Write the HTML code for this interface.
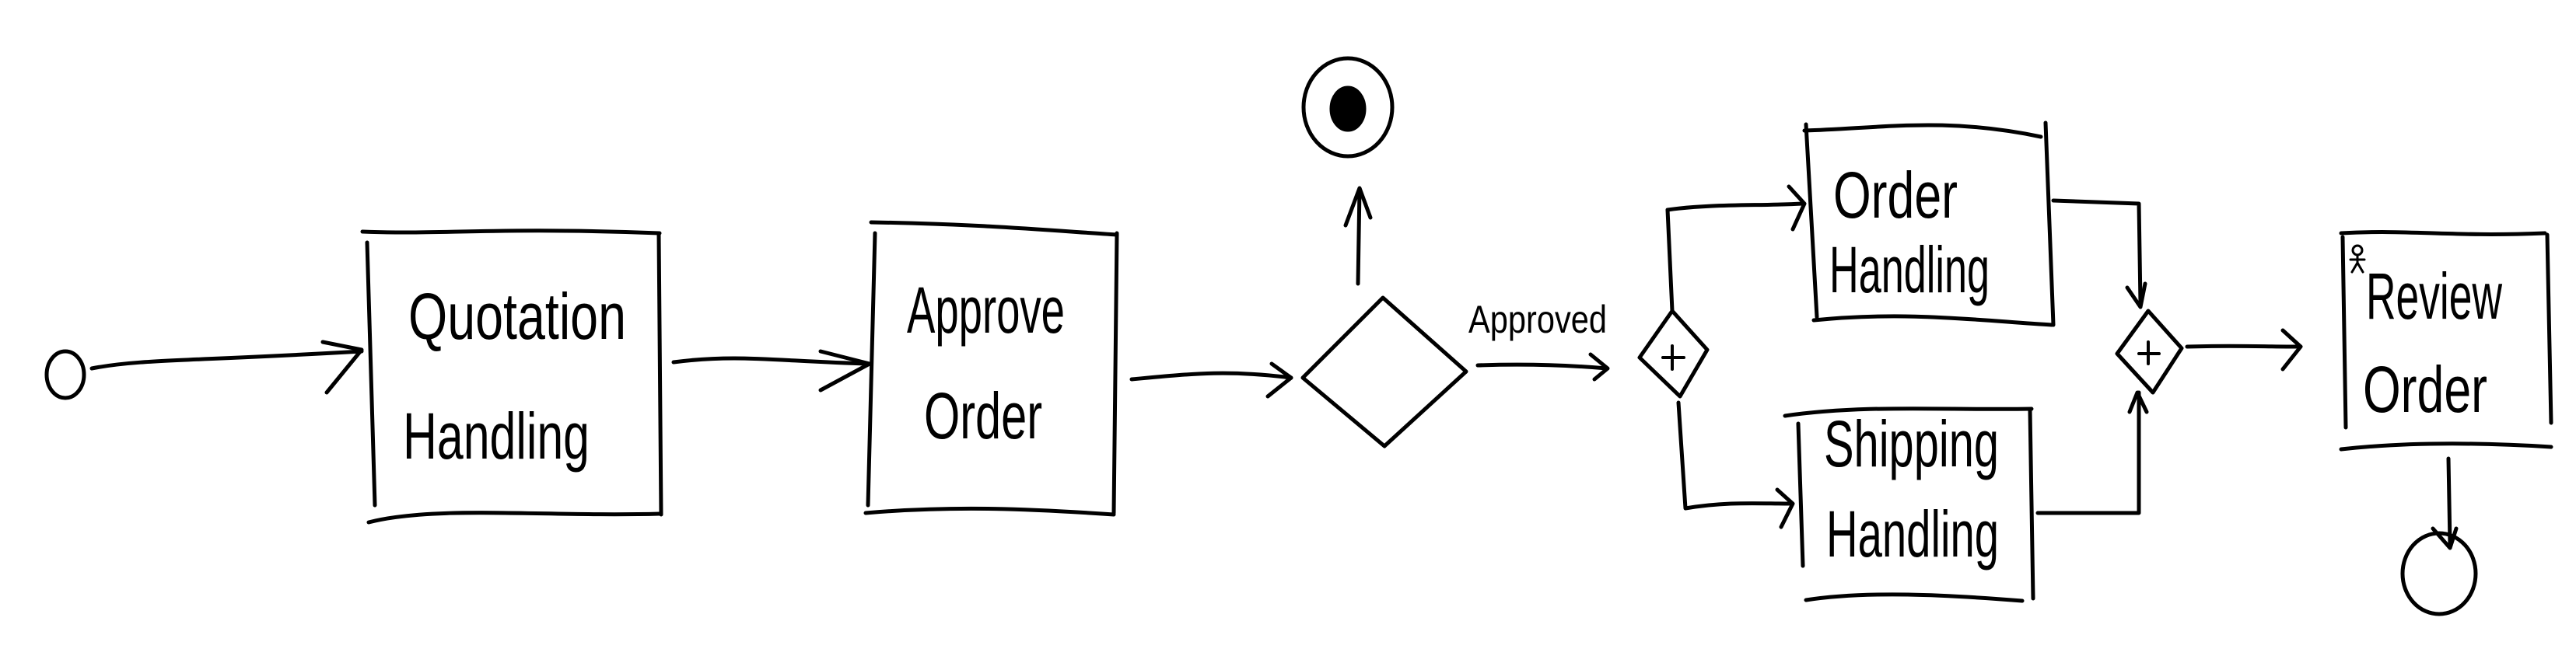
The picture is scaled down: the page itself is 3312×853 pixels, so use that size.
<!DOCTYPE html>
<html><head><meta charset="utf-8"><style>
html,body{margin:0;padding:0;background:#fff;}
svg{display:block;}
text{font-family:"Liberation Sans Narrow","Liberation Sans",sans-serif;fill:#000;}
</style></head><body>
<svg width="3312" height="853" viewBox="0 0 3312 853" xmlns="http://www.w3.org/2000/svg">
<g fill="none" stroke="#000" stroke-width="5" stroke-linecap="round" stroke-linejoin="round">
<ellipse cx="84" cy="482" rx="24" ry="30"/>
<path d="M118 474 C180 462 240 465 465 452"/>
<path d="M415 440 L465 450 L420 505"/>
<path d="M466 298 C560 302 640 292 848 300"/>
<path d="M472 312 L482 650"/>
<path d="M847 300 L850 662"/>
<path d="M474 672 C560 650 700 665 848 661"/>
<path d="M866 466 C950 455 1000 465 1117 468"/>
<path d="M1055 452 L1118 468 L1055 502"/>
<path d="M1120 286 C1250 288 1330 295 1436 302"/>
<path d="M1125 300 L1116 650"/>
<path d="M1436 300 L1432 660"/>
<path d="M1113 660 C1230 650 1330 655 1432 662"/>
<path d="M1455 488 C1540 480 1580 476 1660 486"/>
<path d="M1635 468 L1660 486 L1630 510"/>
<path d="M1675 486 L1778 383 L1885 478 L1780 574 Z"/>
<path d="M1746 365 L1748 243"/>
<path d="M1730 290 L1748 242 L1762 280"/>
<ellipse cx="1733" cy="138" rx="57" ry="63" stroke-width="5"/>
<ellipse cx="1733" cy="140" rx="21" ry="27" fill="#000"/>
<path d="M1900 470 C1960 468 2020 470 2066 474"/>
<path d="M2045 456 L2067 474 L2050 488"/>
<path d="M2150 400 L2195 450 L2160 510 L2108 460 Z"/>
<path d="M2150 445 L2150 475 M2138 460 L2165 460" stroke-width="4"/>
<path d="M2150 400 L2144 270 C2200 262 2260 265 2318 262"/>
<path d="M2300 240 L2320 262 L2305 295"/>
<path d="M2158 518 L2167 654 C2220 645 2260 648 2302 648"/>
<path d="M2285 630 L2305 648 L2290 678"/>
<path d="M2320 168 C2420 165 2500 150 2624 176"/>
<path d="M2322 160 L2336 408"/>
<path d="M2630 158 L2640 418"/>
<path d="M2332 412 C2450 400 2540 412 2638 418"/>
<path d="M2295 535 C2400 520 2500 528 2612 526"/>
<path d="M2312 545 L2318 728"/>
<path d="M2610 528 L2614 770"/>
<path d="M2322 772 C2400 760 2500 765 2600 773"/>
<path d="M2640 258 L2750 262 L2752 390"/>
<path d="M2735 370 L2752 395 L2758 365"/>
<path d="M2620 660 L2750 660 L2750 505"/>
<path d="M2738 530 L2748 505 L2760 530"/>
<path d="M2762 400 L2805 448 L2768 505 L2722 455 Z"/>
<path d="M2762 440 L2762 468 M2750 455 L2776 455" stroke-width="4"/>
<path d="M2812 446 C2870 444 2910 446 2955 446"/>
<path d="M2935 425 L2958 446 L2935 475"/>
<path d="M3010 300 C3100 295 3150 305 3272 300"/>
<path d="M3012 305 L3016 550"/>
<path d="M3275 302 L3280 544"/>
<path d="M3010 578 C3100 568 3200 570 3280 575"/>
<circle cx="3031" cy="322" r="6" stroke-width="3"/>
<path d="M3031 328 L3031 338 M3022 334 L3040 334 M3031 338 L3024 350 M3031 338 L3038 350" stroke-width="3"/>
<path d="M3148 590 L3150 700"/>
<path d="M3128 680 L3150 705 L3158 680"/>
<ellipse cx="3136" cy="738" rx="47" ry="52"/>
</g>
<g font-size="84">
<text x="525" y="436" textLength="280" lengthAdjust="spacingAndGlyphs">Quotation</text>
<text x="518" y="590" textLength="240" lengthAdjust="spacingAndGlyphs">Handling</text>
<text x="1166" y="428" textLength="203" lengthAdjust="spacingAndGlyphs">Approve</text>
<text x="1188" y="564" textLength="152" lengthAdjust="spacingAndGlyphs">Order</text>
<text x="2357" y="280" textLength="160" lengthAdjust="spacingAndGlyphs">Order</text>
<text x="2352" y="376" textLength="206" lengthAdjust="spacingAndGlyphs">Handling</text>
<text x="2345" y="600" textLength="225" lengthAdjust="spacingAndGlyphs">Shipping</text>
<text x="2348" y="716" textLength="222" lengthAdjust="spacingAndGlyphs">Handling</text>
<text x="3042" y="410" textLength="175" lengthAdjust="spacingAndGlyphs">Review</text>
<text x="3038" y="530" textLength="160" lengthAdjust="spacingAndGlyphs">Order</text>
</g>
<text x="1888" y="428" font-size="50" textLength="178" lengthAdjust="spacingAndGlyphs">Approved</text>
</svg>
</body></html>
